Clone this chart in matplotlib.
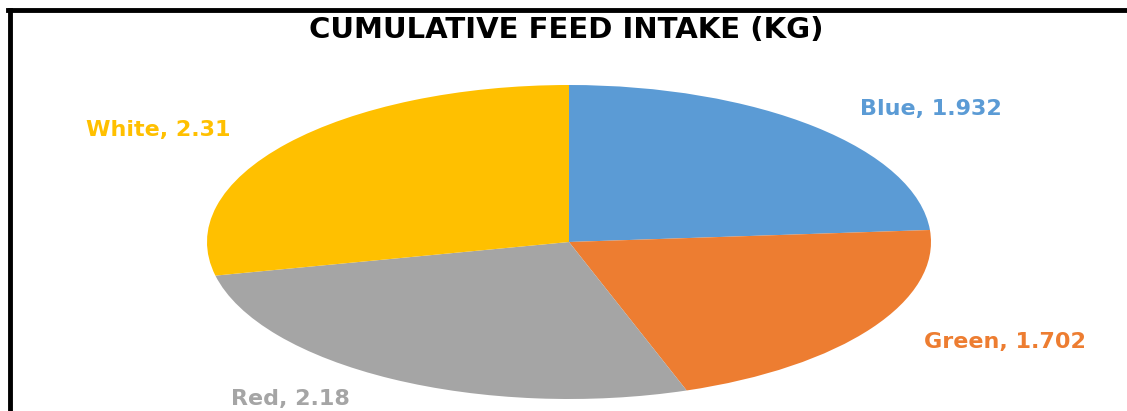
import matplotlib.pyplot as plt
from matplotlib.lines import Line2D

# datos del grafico
labels = ['Blue', 'Green', 'Red', 'White']
values = [1.932, 1.702, 2.18, 2.31]
colors = ['#5B9BD5', '#ED7D31', '#A5A5A5', '#FFC000']
label_pos = [(931, 109), (1005, 342), (290, 399), (158, 130)]  # pixeles

W, H = 1127, 411
fig = plt.figure(figsize=(W / 100, H / 100), dpi=100)

# ejes estirados: el pie sale como elipse
cx, cy, rx, ry = 569, 242, 362, 157
ax = fig.add_axes([(cx - rx) / W, (H - cy - ry) / H, 2 * rx / W, 2 * ry / H])
ax.pie(values, colors=colors, startangle=90, counterclock=False, radius=1,
       wedgeprops={'linewidth': 0})
ax.set_aspect('auto')
ax.set_xlim(-1, 1)
ax.set_ylim(-1, 1)
ax.axis('off')

for lab, val, col, (px, py) in zip(labels, values, colors, label_pos):
    fig.text(px / W, 1 - py / H, f'{lab}, {val:g}', color=col, fontsize=16,
             fontweight='bold', ha='center', va='center')

fig.text(566 / W, 1 - 30 / H, 'CUMULATIVE FEED INTAKE (KG)', fontsize=21,
         fontweight='bold', ha='center', va='center', color='black')

# marco negro (arriba e izquierda)
fig.add_artist(Line2D([8 / W, 1], [1 - 10 / H] * 2, color='black', lw=3.5))
fig.add_artist(Line2D([9.5 / W] * 2, [0, 1 - 10 / H], color='black', lw=3.5))

plt.savefig('out.png', dpi=100)
plt.close()
